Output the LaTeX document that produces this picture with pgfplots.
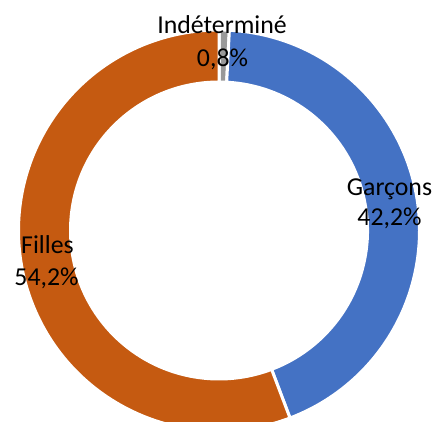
\documentclass[border=0pt]{standalone}
\usepackage{fontspec}
\setmainfont{Carlito}
\usepackage{pgfplots}
\usepackage{pgfplotstable}
\pgfplotsset{compat=1.18}
\definecolor{cblue}{HTML}{4472C4}
\definecolor{corange}{HTML}{C55A11}
\definecolor{cgrey}{HTML}{999999}

% order clockwise from 12 o'clock: Indéterminé, Garçons, Filles
\pgfplotstableread{
value
0.8
42.2
54.2
}\slices

\def\cx{219}
\def\cy{190.5}
\def\Rout{200.5}
\def\Rin{148.5}
\newcommand{\donutslice}[3]{%
  \filldraw[fill=#3, draw=white, line width=3pt]
    ([shift={(#1:\Rout pt)}]C) arc[start angle=#1, end angle=#2, radius=\Rout pt]
    -- ([shift={(#2:\Rin pt)}]C) arc[start angle=#2, end angle=#1, radius=\Rin pt] -- cycle;}

\begin{document}
\begin{tikzpicture}
\pgfplotstablegetelem{0}{value}\of\slices \let\vA\pgfplotsretval
\pgfplotstablegetelem{1}{value}\of\slices \let\vB\pgfplotsretval
\pgfplotstablegetelem{2}{value}\of\slices \let\vC\pgfplotsretval
\pgfmathsetmacro\tot{\vA+\vB+\vC}
\pgfmathsetmacro\aA{90}
\pgfmathsetmacro\aB{90-\vA/\tot*360}
\pgfmathsetmacro\aC{\aB-\vB/\tot*360}
\pgfmathsetmacro\aD{\aC-\vC/\tot*360}
\begin{axis}[at={(0,0)}, anchor=south west, scale only axis,
  width=436pt, height=421pt, xmin=0, xmax=436, ymin=0, ymax=421,
  hide axis, clip=true]
\coordinate (C) at (axis cs:\cx,\cy);
\donutslice{\aA}{\aB}{cgrey}
\donutslice{\aB}{\aC}{cblue}
\donutslice{\aC}{\aD}{corange}
\tikzset{lbl/.style={anchor=base, font=\fontsize{25.8}{32}\selectfont, inner sep=0pt}}
\node[lbl] at (axis cs:222,387.7) {Indéterminé};
\node[lbl] at (axis cs:222.5,354.3) {0,8\%};
\node[lbl] at (axis cs:389.5,226) {Garçons};
\node[lbl] at (axis cs:389.5,195.3) {42,2\%};
\node[lbl] at (axis cs:47.5,168) {Filles};
\node[lbl] at (axis cs:46.5,136) {54,2\%};
\end{axis}
\pgfresetboundingbox
\useasboundingbox (0,0) rectangle (436pt,421pt);
\end{tikzpicture}
\end{document}
